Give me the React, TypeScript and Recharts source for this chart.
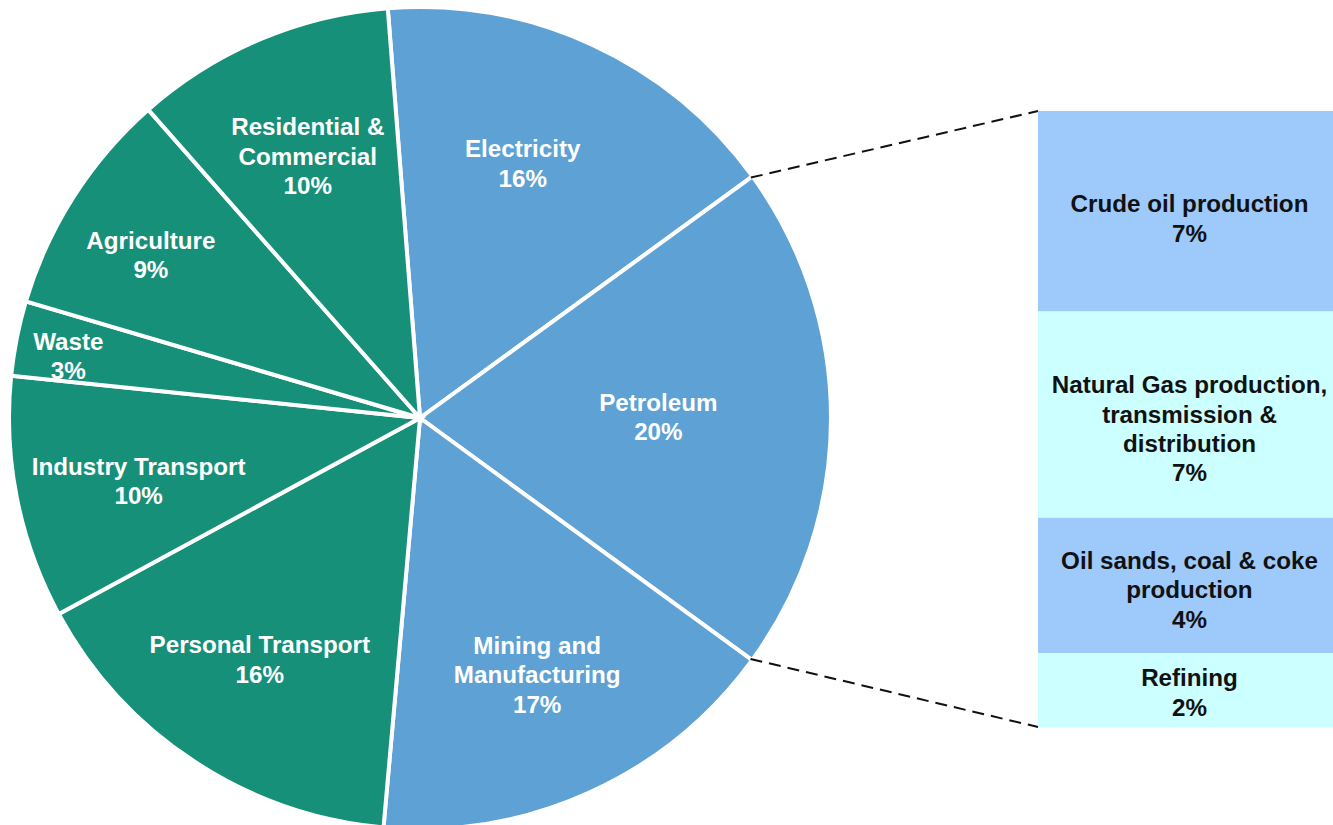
import { Bar, BarChart, Cell, LabelList, Pie, PieChart, XAxis, YAxis } from 'recharts'

// emission shares by sector (labels are the rounded figures shown)
const sectors = [
  'Electricity',
  'Petroleum',
  'Mining and\nManufacturing',
  'Personal Transport',
  'Industry Transport',
  'Waste',
  'Agriculture',
  'Residential &\nCommercial',
]
const sectorShares = [16.25, 20.03, 16.39, 15.67, 9.56, 2.94, 8.92, 10.25]
const sectorLabels = ['16%', '20%', '17%', '16%', '10%', '3%', '9%', '10%']
const sectorGroup = ['energy', 'energy', 'energy', 'other', 'other', 'other', 'other', 'other']

// petroleum breakdown, top to bottom
const oilGasParts = [
  'Crude oil production',
  'Natural Gas production,\ntransmission &\ndistribution',
  'Oil sands, coal & coke\nproduction',
  'Refining',
]
const oilGasShares = [6.5, 6.7, 4.4, 2.4]
const oilGasLabels = ['7%', '7%', '4%', '2%']

const FONT = '"Liberation Sans", Arial, sans-serif'
const GREEN = '#17907a'
const BLUE = '#5ea1d4'
const BOX_COLORS = ['#9dc9fb', '#ccffff', '#9dc9fb', '#ccffff']

const BOX_LEFT = 1038
const BOX_TOP = 111
const BOX_WIDTH = 295
const BOX_HEIGHT = 616
const LINE_H = 29.3
const RAD = Math.PI / 180

// label placement tweaks: fraction of radius, angle nudge (deg), vertical nudge
const labelRadius = [0.66, 0.58, 0.69, 0.71, 0.7, 0.87, 0.77, 0.7]
const labelAngleNudge = [2.5, 0, 0, 0, 0.8, 0.8, 0.8, 0]
const labelYNudge = [-6, -4, -4, -5, 0, 0, 1, 0.5]
const boxYNudge = [7, 14, 4, 2]

const pieData = sectors.map((name, i) => ({ name, value: sectorShares[i] }))

const barRow: Record<string, string | number> = { name: 'Petroleum' }
oilGasShares.forEach((v, i) => {
  barRow[`p${i}`] = v
})
const barData = [barRow]
const oilGasTotal = oilGasShares.reduce((a, b) => a + b, 0)

function MultiLine({ x, y, lines, fill }: { x: number; y: number; lines: string[]; fill: string }) {
  const top = y - ((lines.length - 1) * LINE_H) / 2
  return (
    <text
      x={x}
      y={top}
      fill={fill}
      textAnchor="middle"
      dominantBaseline="central"
      style={{ fontFamily: FONT, fontWeight: 700, fontSize: 24.2 }}
    >
      {lines.map((l, i) => (
        <tspan key={i} x={x} dy={i === 0 ? 0 : LINE_H}>
          {l}
        </tspan>
      ))}
    </text>
  )
}

function renderSectorLabel(props: any) {
  const { cx, cy, midAngle, outerRadius, index, startAngle, endAngle } = props
  const r = outerRadius * labelRadius[index]
  const a = midAngle + labelAngleNudge[index]
  const x = cx + r * Math.cos(-a * RAD)
  const y = cy + r * Math.sin(-a * RAD)
  const lines = [...sectors[index].split('\n'), sectorLabels[index]]

  let connectors = null
  if (sectors[index] === 'Petroleum') {
    const edge = outerRadius - 2
    const p1 = { x: cx + edge * Math.cos(-startAngle * RAD), y: cy + edge * Math.sin(-startAngle * RAD) }
    const p2 = { x: cx + edge * Math.cos(-endAngle * RAD), y: cy + edge * Math.sin(-endAngle * RAD) }
    connectors = (
      <g stroke="#111" strokeWidth={2} strokeDasharray="12 7">
        <line x1={p1.x} y1={p1.y} x2={BOX_LEFT} y2={BOX_TOP} />
        <line x1={p2.x} y1={p2.y} x2={BOX_LEFT} y2={BOX_TOP + BOX_HEIGHT} />
      </g>
    )
  }

  return (
    <g key={`lbl-${index}`}>
      {connectors}
      <MultiLine x={x} y={y + 2 + labelYNudge[index]} lines={lines} fill="#fff" />
    </g>
  )
}

function boxLabel(i: number) {
  return (props: any) => {
    const { x, y, width, height } = props
    const lines = [...oilGasParts[i].split('\n'), oilGasLabels[i]]
    return (
      <MultiLine
        x={Number(x) + Number(width) / 2 + 4}
        y={Number(y) + Number(height) / 2 + boxYNudge[i]}
        lines={lines}
        fill="#111"
      />
    )
  }
}

export default function App() {
  // stacked bars grow upward, so the last part goes first
  const order = [3, 2, 1, 0]
  return (
    <div
      style={{
        position: 'absolute',
        left: 0,
        top: 0,
        width: 1333,
        height: 825,
        overflow: 'hidden',
        background: '#fff',
      }}
    >
      <PieChart width={1333} height={825} margin={{ top: 0, right: 0, bottom: 0, left: 0 }}>
        <Pie
          data={pieData}
          dataKey="value"
          nameKey="name"
          cx={420}
          cy={418}
          outerRadius={411}
          startAngle={94.5}
          endAngle={-265.5}
          stroke="#fff"
          strokeWidth={4}
          label={renderSectorLabel}
          labelLine={false}
          isAnimationActive={false}
        >
          {pieData.map((d, i) => (
            <Cell key={d.name} fill={sectorGroup[i] === 'energy' ? BLUE : GREEN} />
          ))}
        </Pie>
      </PieChart>
      <div style={{ position: 'absolute', left: BOX_LEFT, top: BOX_TOP }}>
        <BarChart
          width={BOX_WIDTH}
          height={BOX_HEIGHT}
          data={barData}
          margin={{ top: 0, right: 0, bottom: 0, left: 0 }}
          barCategoryGap={0}
        >
          <XAxis dataKey="name" hide />
          <YAxis hide domain={[0, oilGasTotal]} />
          {order.map((i) => (
            <Bar key={i} dataKey={`p${i}`} stackId="oil" fill={BOX_COLORS[i]} isAnimationActive={false}>
              <LabelList dataKey={`p${i}`} content={boxLabel(i)} />
            </Bar>
          ))}
        </BarChart>
      </div>
    </div>
  )
}
